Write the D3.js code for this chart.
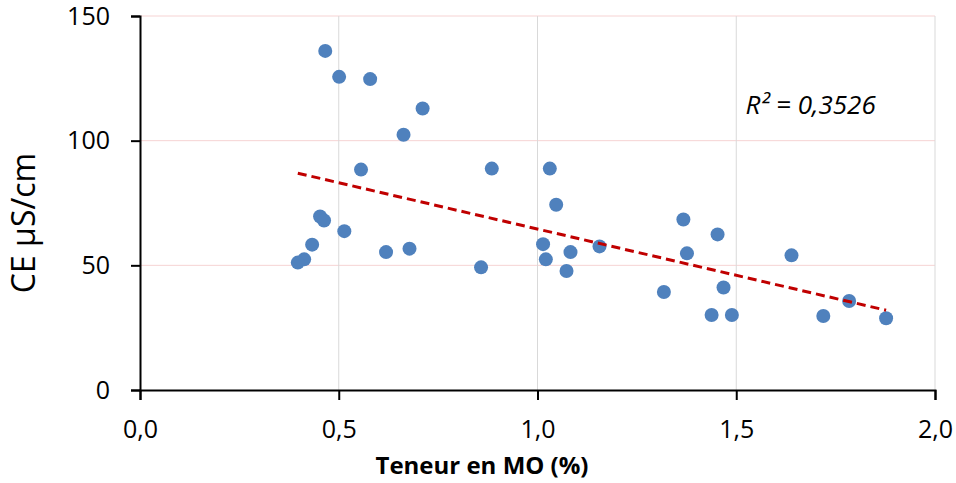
<!DOCTYPE html>
<html>
<head>
<meta charset="utf-8">
<script src="https://cdn.jsdelivr.net/npm/d3@7"></script>
<style>
  body { margin: 0; background: #fff; }
  svg text { font-family: "Open Sans", "DejaVu Sans", sans-serif; fill: #000; }
</style>
</head>
<body>
<div id="scatter"></div>
<script>
// data: teneur en MO (%) and CE (µS/cm)
var moValues = [0.466, 0.501, 0.579, 0.711, 0.663, 0.556, 0.453, 0.463, 0.433, 0.413,
  0.397, 0.514, 0.619, 0.678, 0.885, 1.031, 1.047, 1.014, 1.021, 1.083,
  1.073, 1.156, 0.858, 1.367, 1.453, 1.376, 1.639, 1.318, 1.468, 1.438,
  1.489, 1.719, 1.784, 1.877];
var ceValues = [136, 125.6, 124.7, 112.9, 102.4, 88.4, 69.6, 68, 58.3, 52.4,
  51.1, 63.7, 55.3, 56.7, 88.8, 88.8, 74.3, 58.5, 52.4, 55.3,
  47.7, 57.6, 49.2, 68.4, 62.4, 54.8, 54, 39.3, 41.1, 30.1,
  30.1, 29.7, 35.7, 28.8];
var xTicks = [0, 0.5, 1, 1.5, 2];
var yTicks = [0, 50, 100, 150];
var r2Label = "R² = 0,3526";

var svgWidth = 956;
var svgHeight = 483;
var margin = { top: 16, right: 21, bottom: 93, left: 140 };
var width = svgWidth - margin.left - margin.right;
var height = svgHeight - margin.top - margin.bottom;

var data = moValues.map((m, i) => ({ mo: m, ce: ceValues[i] }));

var svg = d3.select("#scatter").append("svg")
  .attr("width", svgWidth)
  .attr("height", svgHeight);

var chartGroup = svg.append("g")
  .attr("transform", `translate(${margin.left}, ${margin.top})`);

var x = d3.scaleLinear().domain([0, 2]).range([0, width]);
var y = d3.scaleLinear().domain([0, 150]).range([height, 0]);

var fmt = d => d3.format(".1f")(d).replace(".", ",");

// gridlines
chartGroup.append("g").selectAll("line")
  .data(yTicks.filter(d => d > 0))
  .enter().append("line")
  .attr("x1", 0).attr("x2", width)
  .attr("y1", d => y(d)).attr("y2", d => y(d))
  .attr("stroke", "#f6d3d3").attr("stroke-width", 1);

chartGroup.append("g").selectAll("line")
  .data(xTicks.filter(d => d > 0))
  .enter().append("line")
  .attr("x1", d => x(d)).attr("x2", d => x(d))
  .attr("y1", 0).attr("y2", height)
  .attr("stroke", "#d9d9d9").attr("stroke-width", 1);

// axes
var bottomAxis = d3.axisBottom(x).tickValues(xTicks).tickSize(10).tickPadding(20).tickFormat(fmt);
var leftAxis = d3.axisLeft(y).tickValues(yTicks).tickSize(9).tickPadding(21);

var gx = chartGroup.append("g")
  .attr("transform", `translate(0, ${height})`)
  .call(bottomAxis);
var gy = chartGroup.append("g").call(leftAxis);

[gx, gy].forEach(g => {
  g.select(".domain").attr("stroke", "#000").attr("stroke-width", 2);
  g.selectAll(".tick line").attr("stroke", "#000").attr("stroke-width", 2);
  g.selectAll(".tick text").style("font-size", "25px").attr("fill", "#000");
});

// trend line (least squares)
var mx = d3.mean(data, d => d.mo);
var my = d3.mean(data, d => d.ce);
var slope = d3.sum(data, d => (d.mo - mx) * (d.ce - my)) / d3.sum(data, d => (d.mo - mx) * (d.mo - mx));
var intercept = my - slope * mx;
var xExt = d3.extent(data, d => d.mo);
var trend = xExt.map(v => ({ mo: v, ce: intercept + slope * v }));

var line = d3.line().x(d => x(d.mo)).y(d => y(d.ce));

// points
chartGroup.selectAll("circle")
  .data(data)
  .enter()
  .append("circle")
  .attr("cx", d => x(d.mo))
  .attr("cy", d => y(d.ce))
  .attr("r", 7)
  .attr("fill", "#4f81bd");

chartGroup.append("path")
  .attr("d", line(trend))
  .attr("fill", "none")
  .attr("stroke", "#c00000")
  .attr("stroke-width", 3)
  .attr("stroke-dasharray", "9,5");

// R² label
chartGroup.append("text")
  .attr("x", x(1.523))
  .attr("y", y(110.5))
  .style("font-size", "26px")
  .style("font-style", "italic")
  .text(r2Label);

// axis titles
svg.append("text")
  .attr("x", 482)
  .attr("y", 474)
  .attr("text-anchor", "middle")
  .style("font-size", "24px")
  .style("font-weight", "bold")
  .text("Teneur en MO (%)");

svg.append("text")
  .attr("transform", "rotate(-90)")
  .attr("x", -223)
  .attr("y", 35)
  .attr("text-anchor", "middle")
  .style("font-size", "32px")
  .text("CE µS/cm");
</script>
</body>
</html>
